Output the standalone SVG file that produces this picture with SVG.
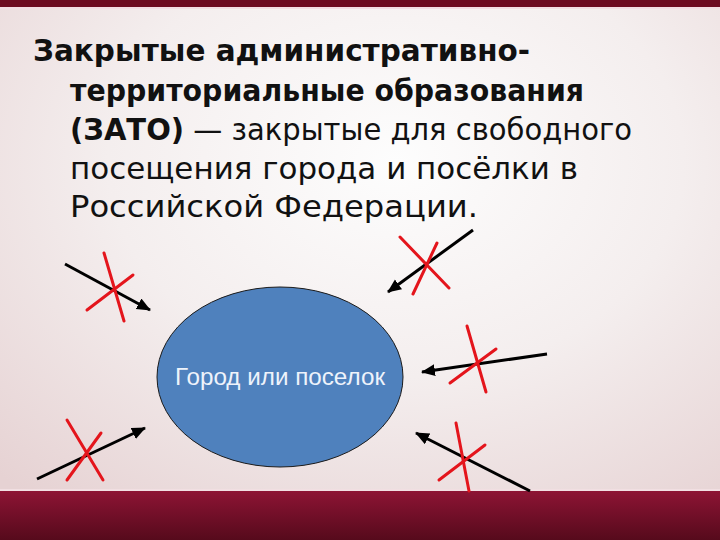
<svg xmlns="http://www.w3.org/2000/svg" width="720" height="540" viewBox="0 0 720 540">
  <defs>
    <radialGradient id="bg" cx="0.55" cy="0.3" r="0.8">
      <stop offset="0" stop-color="#fdfdfd"/>
      <stop offset="0.5" stop-color="#f4eeee"/>
      <stop offset="1" stop-color="#e6d2d3"/>
    </radialGradient>
    <linearGradient id="band" x1="0" y1="0" x2="0" y2="1">
      <stop offset="0" stop-color="#8d1434"/>
      <stop offset="1" stop-color="#560a1c"/>
    </linearGradient>
    <marker id="arrow" markerUnits="userSpaceOnUse" markerWidth="16" markerHeight="14" refX="13" refY="6" orient="auto">
      <path d="M0,0 L14,6 L0,12 Z" fill="#000"/>
    </marker>
    <style>
      .title { font-family: "DejaVu Sans", "Liberation Sans", sans-serif; font-size: 30px; fill: #111; }
      .b { font-weight: bold; }
      .arr { stroke: #000; stroke-width: 3; fill: none; marker-end: url(#arrow); }
      .x { stroke: #e4151c; stroke-width: 3; stroke-linecap: round; }
      .lbl { font-family: "Liberation Sans", Arial, sans-serif; font-size: 23px; fill: #eef3fb; }
    </style>
  </defs>

  <!-- background -->
  <rect x="0" y="0" width="720" height="540" fill="url(#bg)"/>
  <rect x="0" y="0" width="720" height="7" fill="#6d0a20"/>
  <rect x="0" y="7" width="720" height="2" fill="#f3dde3"/>
  <rect x="0" y="489" width="720" height="3" fill="#f1dfe2"/>
  <rect x="0" y="491" width="720" height="49" fill="url(#band)"/>

  <!-- title text -->
  <g id="title">
    <text class="title b" x="33" y="61" textLength="497" lengthAdjust="spacingAndGlyphs">Закрытые административно-</text>
    <text class="title b" x="70" y="101" textLength="514" lengthAdjust="spacingAndGlyphs">территориальные образования</text>
    <text class="title" x="70" y="140" textLength="562" lengthAdjust="spacingAndGlyphs"><tspan class="b">(ЗАТО)</tspan> — закрытые для свободного</text>
    <text class="title" x="70" y="179" textLength="508" lengthAdjust="spacingAndGlyphs">посещения города и посёлки в</text>
    <text class="title" x="70" y="217" textLength="408" lengthAdjust="spacingAndGlyphs">Российской Федерации.</text>
  </g>

  <!-- node -->
  <g id="city">
    <ellipse cx="280" cy="377" rx="123" ry="90" fill="#4f81bd" stroke="#1a1a1a" stroke-width="1"/>
    <text class="lbl" x="175" y="385" textLength="210" lengthAdjust="spacingAndGlyphs">Город или поселок</text>
  </g>

  <!-- connectors -->
  <g id="connectors">
    <line class="arr" x1="65" y1="264" x2="150" y2="310"/>
    <line class="arr" x1="473" y1="230" x2="388" y2="292"/>
    <line class="arr" x1="547" y1="354" x2="422" y2="372"/>
    <line class="arr" x1="37" y1="479" x2="145" y2="428"/>
    <line class="arr" x1="530" y1="491" x2="416" y2="433"/>
  </g>

  <!-- prohibition crosses -->
  <g id="crosses">
    <g id="cross1">
      <line class="x" x1="104" y1="253" x2="124" y2="321"/>
      <line class="x" x1="87" y1="310" x2="133" y2="275"/>
    </g>
    <g id="cross2">
      <line class="x" x1="400" y1="237" x2="449" y2="288"/>
      <line class="x" x1="437" y1="243" x2="413" y2="294"/>
    </g>
    <g id="cross3">
      <line class="x" x1="467" y1="326" x2="486" y2="392"/>
      <line class="x" x1="450" y1="383" x2="496" y2="349"/>
    </g>
    <g id="cross4">
      <line class="x" x1="67" y1="420" x2="103" y2="480"/>
      <line class="x" x1="67" y1="480" x2="101" y2="433"/>
    </g>
    <g id="cross5">
      <line class="x" x1="456" y1="423" x2="469" y2="491"/>
      <line class="x" x1="439" y1="480" x2="485" y2="445"/>
    </g>
  </g>
</svg>
